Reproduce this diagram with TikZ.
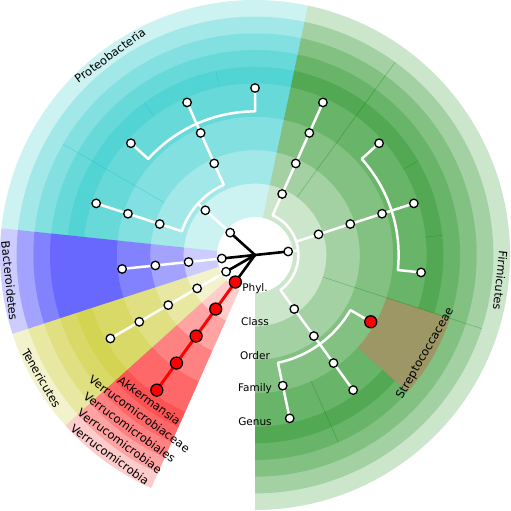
\documentclass[tikz,border=0pt]{standalone}
\usepackage{fontspec}
\setmainfont{DejaVu Sans}
\definecolor{cyanc}{RGB}{0,191,191}
\definecolor{greenc}{RGB}{0,128,0}
\definecolor{bluec}{RGB}{0,0,255}
\definecolor{yelc}{RGB}{191,191,0}
\definecolor{redc}{RGB}{255,0,0}
\newcommand\ringsect[5]{\fill[#1,fill opacity=0.2] (#2:#4pt) arc[start angle=#2,end angle=#3,radius=#4pt] -- (#3:#5pt) arc[start angle=#3,end angle=#2,radius=#5pt] -- cycle;}
\newcommand\seamline[4]{\draw[#1,opacity=0.3,line width=0.6pt] (#2:#3pt) -- (#2:#4pt);}
\begin{document}
\begin{tikzpicture}[x=1pt,y=1pt,
  wnode/.style={circle,fill=white,draw=black,line width=1.3pt,minimum size=8.5pt,inner sep=0pt},
  rnode/.style={circle,fill=redc,draw=black,line width=1.3pt,minimum size=12pt,inner sep=0pt},
  branch/.style={white,line width=2.5pt,line join=round},
  rootline/.style={black,line width=2.6pt},
  redline/.style={redc,line width=3pt},
  clab/.style={font=\fontsize{11.5}{13}\selectfont,inner sep=0pt},
  llab/.style={font=\fontsize{10.5}{12}\selectfont,inner sep=0pt}]
\useasboundingbox (-255,-256) rectangle (256,255);
% ---------- background sectors ----------
% Firmicutes
\ringsect{greenc}{270}{438}{38}{255}
\ringsect{greenc}{54}{78}{71.4}{238.4}
\ringsect{greenc}{-18}{54}{71.4}{238.4}
\ringsect{greenc}{-90}{-18}{71.4}{238.4}
\ringsect{greenc}{54}{78}{104.8}{221.7}
\ringsect{greenc}{-18}{54}{104.8}{221.7}
\ringsect{greenc}{-90}{-18}{104.8}{221.7}
\ringsect{greenc}{54}{78}{138.2}{205}
\ringsect{greenc}{-18}{54}{138.2}{205}
\ringsect{greenc}{-66}{-42}{138.2}{205}
\ringsect{greenc}{-90}{-66}{138.2}{205}
\ringsect{greenc}{54}{78}{171.6}{188.3}
\ringsect{greenc}{30}{54}{171.6}{188.3}
\ringsect{greenc}{6}{30}{171.6}{188.3}
\ringsect{greenc}{-18}{6}{171.6}{188.3}
\ringsect{greenc}{-66}{-42}{171.6}{188.3}
\ringsect{greenc}{-90}{-66}{171.6}{188.3}
% Streptococcaceae
\fill[redc,fill opacity=0.22] (-42:138.2pt) arc[start angle=-42,end angle=-18,radius=138.2pt] -- (-18:205pt) arc[start angle=-18,end angle=-42,radius=205pt] -- cycle;
% Proteobacteria
\ringsect{cyanc}{78}{174}{38}{255}
\ringsect{cyanc}{78}{174}{71.4}{238.4}
\ringsect{cyanc}{150}{174}{104.8}{221.7}
\ringsect{cyanc}{78}{150}{104.8}{221.7}
\ringsect{cyanc}{150}{174}{138.2}{205}
\ringsect{cyanc}{78}{150}{138.2}{205}
\ringsect{cyanc}{150}{174}{171.6}{188.3}
\ringsect{cyanc}{126}{150}{171.6}{188.3}
\ringsect{cyanc}{102}{126}{171.6}{188.3}
\ringsect{cyanc}{78}{102}{171.6}{188.3}
% Bacteroidetes
\ringsect{bluec}{174}{198}{38}{255}
\ringsect{bluec}{174}{198}{71.4}{238.4}
\ringsect{bluec}{174}{198}{104.8}{221.7}
\ringsect{bluec}{174}{198}{138.2}{205}
% Tenericutes
\ringsect{yelc}{198}{222}{38}{255}
\ringsect{yelc}{198}{222}{71.4}{238.4}
\ringsect{yelc}{198}{222}{104.8}{221.7}
\ringsect{yelc}{198}{222}{138.2}{205}
\ringsect{yelc}{198}{222}{171.6}{188.3}
% Verrucomicrobia
\ringsect{redc}{222}{246}{38}{255}
\ringsect{redc}{222}{246}{71.4}{238.4}
\ringsect{redc}{222}{246}{104.8}{221.7}
\ringsect{redc}{222}{246}{138.2}{205}
\ringsect{redc}{222}{246}{171.6}{188.3}
% seams
\seamline{greenc}{54}{71.4}{238.4}
\seamline{greenc}{-18}{71.4}{238.4}
\seamline{greenc}{-66}{138.2}{205}
\seamline{greenc}{30}{171.6}{188.3}
\seamline{greenc}{6}{171.6}{188.3}
\seamline{cyanc}{150}{104.8}{221.7}
\seamline{cyanc}{126}{171.6}{188.3}
\seamline{cyanc}{102}{171.6}{188.3}
% ---------- clade labels ----------
\node[clab,rotate=36] (lprot) at (126:246.7pt) {Proteobacteria};
\node[clab,rotate=-96] (lfirm) at (354:246.7pt) {Firmicutes};
\node[clab,rotate=-84] (lbact) at (186:246.7pt) {Bacteroidetes};
\node[clab,rotate=-60] (lten) at (210:246.7pt) {Tenericutes};
\node[clab,rotate=-36] (lv1) at (234:246.7pt) {Verrucomicrobia};
\node[clab,rotate=-36] (lv2) at (234:230pt) {Verrucomicrobiae};
\node[clab,rotate=-36] (lv3) at (234:213.3pt) {Verrucomicrobiales};
\node[clab,rotate=-36] (lv4) at (234:196.6pt) {Verrucomicrobiaceae};
\node[clab,rotate=-36] (lv5) at (234:179.9pt) {Akkermansia};
\node[clab,rotate=60] (lstrep) at (330:196.6pt) {Streptococcaceae};
% ---------- level labels ----------
\node[llab] (lphyl) at (270:33.4pt) {Phyl.};
\node[llab] (lclass) at (270:66.8pt) {Class};
\node[llab] (lorder) at (270:100.2pt) {Order};
\node[llab] (lfamily) at (270:133.6pt) {Family};
\node[llab] (lgenus) at (270:167pt) {Genus};
% ---------- node coordinates ----------
\coordinate (root) at (0,0);
% Firmicutes
\coordinate (fp) at (6:33.4pt);
\coordinate (fcA) at (66:66.8pt);
\coordinate (fcB) at (18:66.8pt);
\coordinate (fcC) at (-54:66.8pt);
\coordinate (foA) at (66:100.2pt);
\coordinate (foB) at (18:100.2pt);
\coordinate (foC) at (-54:100.2pt);
\coordinate (ffA) at (66:133.6pt);
\coordinate (ffB) at (18:133.6pt);
\coordinate (ffC1) at (-30:133.6pt);
\coordinate (ffC2) at (-54:133.6pt);
\coordinate (ffC3) at (-78:133.6pt);
\coordinate (fgA) at (66:167pt);
\coordinate (fgB1) at (42:167pt);
\coordinate (fgB2) at (18:167pt);
\coordinate (fgB3) at (-6:167pt);
\coordinate (fgC2) at (-54:167pt);
\coordinate (fgC3) at (-78:167pt);
% Proteobacteria
\coordinate (pp) at (138:33.4pt);
\coordinate (pc) at (138:66.8pt);
\coordinate (poA) at (162:100.2pt);
\coordinate (poB) at (114:100.2pt);
\coordinate (pfA) at (162:133.6pt);
\coordinate (pfB) at (114:133.6pt);
\coordinate (pgA) at (162:167pt);
\coordinate (pgB1) at (138:167pt);
\coordinate (pgB2) at (114:167pt);
\coordinate (pgB3) at (90:167pt);
% Bacteroidetes
\coordinate (bp) at (186:33.4pt);
\coordinate (bc) at (186:66.8pt);
\coordinate (bo) at (186:100.2pt);
\coordinate (bf) at (186:133.6pt);
% Tenericutes
\coordinate (tp) at (210:33.4pt);
\coordinate (tc) at (210:66.8pt);
\coordinate (to) at (210:100.2pt);
\coordinate (tf) at (210:133.6pt);
\coordinate (tg) at (210:167pt);
% Verrucomicrobia
\coordinate (vp) at (234:33.4pt);
\coordinate (vc) at (234:66.8pt);
\coordinate (vo) at (234:100.2pt);
\coordinate (vf) at (234:133.6pt);
\coordinate (vg) at (234:167pt);
% ---------- branches ----------
% Firmicutes
\draw[branch] (fp) -- (6:43.4pt);
\draw[branch] (fcA) -- (66:43.4pt) arc[start angle=66,end angle=-54,radius=43.4pt] -- (fcC);
\draw[branch] (18:43.4pt) -- (fcB);
\draw[branch] (fcA) -- (foA) -- (ffA) -- (fgA);
\draw[branch] (fcB) -- (foB) -- (ffB) -- (fgB2);
\draw[branch] (fgB1) -- (42:143.6pt) arc[start angle=42,end angle=-6,radius=143.6pt] -- (fgB3);
\draw[branch] (fcC) -- (foC) -- (ffC2) -- (fgC2);
\draw[branch] (ffC1) -- (-30:110.2pt) arc[start angle=-30,end angle=-78,radius=110.2pt] -- (ffC3) -- (fgC3);
% Proteobacteria
\draw[branch] (pp) -- (pc) -- (138:76.8pt);
\draw[branch] (poA) -- (162:76.8pt) arc[start angle=162,end angle=114,radius=76.8pt] -- (poB);
\draw[branch] (poA) -- (pfA) -- (pgA);
\draw[branch] (poB) -- (pfB) -- (pgB2);
\draw[branch] (pgB1) -- (138:143.6pt) arc[start angle=138,end angle=90,radius=143.6pt] -- (pgB3);
% Bacteroidetes, Tenericutes
\draw[branch] (bp) -- (bc) -- (bo) -- (bf);
\draw[branch] (tp) -- (tc) -- (to) -- (tf) -- (tg);
% Verrucomicrobia
\draw[redline] (vp) -- (vc) -- (vo) -- (vf) -- (vg);
% root
\foreach \c in {fp,pp,bp,tp,vp} \draw[rootline] (root) -- (\c);
% ---------- nodes ----------
\foreach \c in {fp,fcA,fcB,fcC,foA,foB,foC,ffA,ffB,ffC2,ffC3,fgA,fgB1,fgB2,fgB3,fgC2,fgC3,
  pp,pc,poA,poB,pfA,pfB,pgA,pgB1,pgB2,pgB3,bp,bc,bo,bf,tp,tc,to,tf,tg}
  \node[wnode] (n-\c) at (\c) {};
\foreach \c in {ffC1,vp,vc,vo,vf,vg}
  \node[rnode] (n-\c) at (\c) {};
\end{tikzpicture}
\end{document}
